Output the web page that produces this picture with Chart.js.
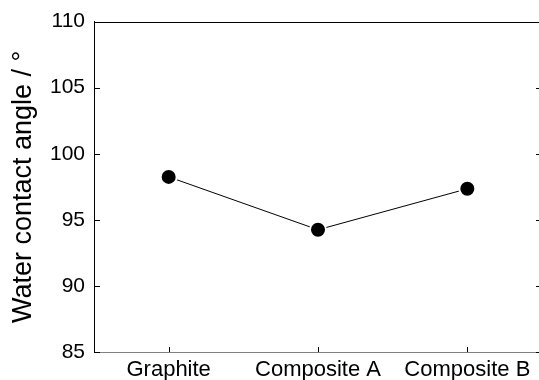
<!DOCTYPE html>
<html>
<head>
<meta charset="utf-8">
<script src="https://cdn.jsdelivr.net/npm/chart.js@4"></script>
<style>
  html, body { margin: 0; padding: 0; overflow: hidden; background: #fff; }
  canvas { display: block; }
</style>
</head>
<body>
<canvas id="chart" width="552" height="380"></canvas>
<script>
const categories = ['Graphite', 'Composite A', 'Composite B'];
const contactAngle = [98.25, 94.25, 97.35];
const yTicks = [85, 90, 95, 100, 105, 110];

const FONT = 'Liberation Sans, Arial, sans-serif';

// frame (top/right) and inward-pointing tick marks
const frameTicks = {
  id: 'frameTicks',
  afterDraw(chart) {
    const { ctx, chartArea: a, scales: { x, y } } = chart;
    const al = v => Math.round(v) + 0.5;
    ctx.save();
    ctx.strokeStyle = '#000';
    ctx.lineWidth = 1;
    ctx.beginPath();
    ctx.moveTo(al(a.left), al(a.top));
    ctx.lineTo(al(a.right), al(a.top));
    ctx.lineTo(al(a.right), al(a.bottom));
    yTicks.forEach(v => {
      const py = al(y.getPixelForValue(v));
      ctx.moveTo(a.left, py); ctx.lineTo(a.left + 6, py);
      ctx.moveTo(a.right, py); ctx.lineTo(a.right - 6, py);
    });
    categories.forEach((c, i) => {
      const px = al(x.getPixelForValue(i));
      ctx.moveTo(px, a.bottom); ctx.lineTo(px, a.bottom - 5);
    });
    ctx.stroke();
    ctx.restore();
  }
};

new Chart(document.getElementById('chart').getContext('2d'), {
  type: 'line',
  data: {
    labels: categories,
    datasets: [{
      data: contactAngle,
      borderColor: '#000',
      borderWidth: 1,
      pointRadius: 8,
      pointHoverRadius: 8,
      pointBackgroundColor: '#000',
      pointBorderColor: '#fff',
      pointBorderWidth: 2,
      tension: 0
    }]
  },
  options: {
    responsive: false,
    animation: false,
    layout: { padding: { top: 20, left: 0, right: 0, bottom: 0 } },
    plugins: { legend: { display: false }, tooltip: { enabled: false } },
    scales: {
      x: {
        offset: true,
        grid: { display: false, drawTicks: false },
        border: { display: true, color: '#808080', width: 1 },
        ticks: { color: '#000', padding: 5, font: { family: FONT, size: 22 } },
        afterFit: s => { s.height = 28; }
      },
      y: {
        min: 85,
        max: 110,
        grid: { display: false, drawTicks: false },
        border: { display: true, color: '#000', width: 1 },
        ticks: {
          stepSize: 5,
          color: '#000',
          padding: 9,
          font: { family: FONT, size: 21 }
        },
        title: {
          display: true,
          text: 'Water contact angle / °',
          color: '#000',
          padding: { top: 7, bottom: 0 },
          font: { family: FONT, size: 27 }
        },
        afterFit: s => { s.width = 94; }
      }
    }
  },
  plugins: [frameTicks]
});
</script>
</body>
</html>
